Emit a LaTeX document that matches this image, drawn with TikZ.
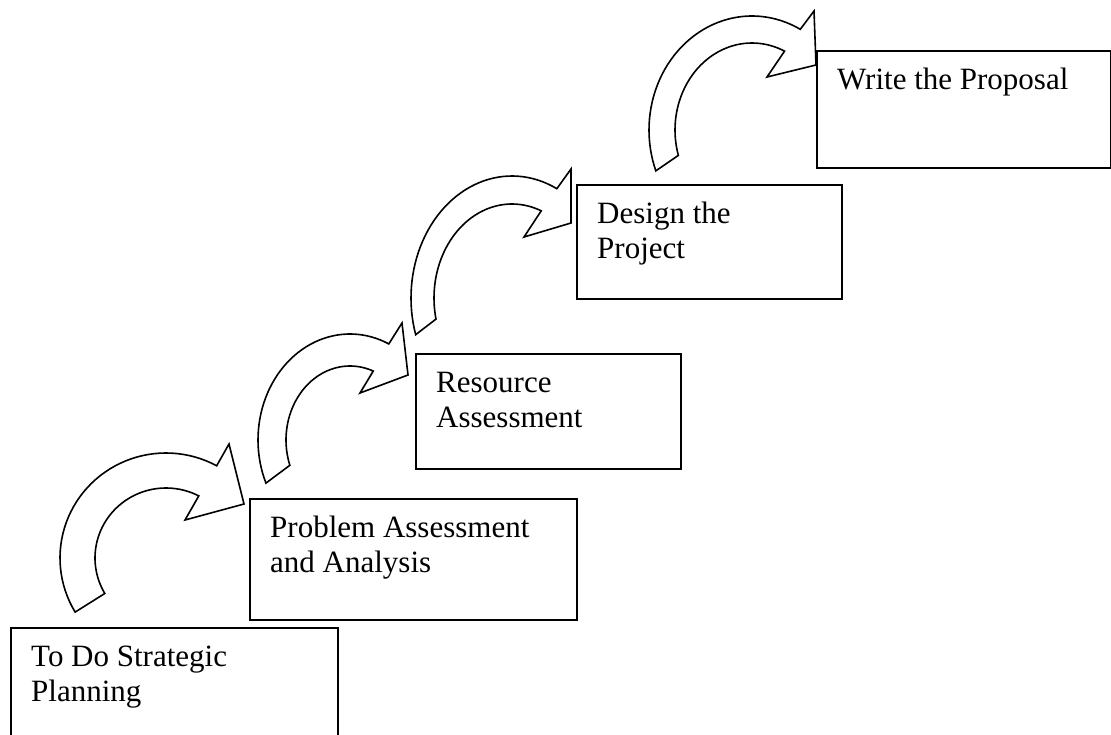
\documentclass[tikz,border=0pt]{standalone}
\usepackage{fontspec}
\setmainfont{Liberation Serif}
\usetikzlibrary{calc}
\tikzset{
  stepbox/.style={draw, line width=2pt, rectangle, anchor=north west, inner sep=0pt},
  boxtext/.style={anchor=north west, inner sep=0pt, align=left, font=\fontsize{31}{35}\selectfont},
  blockarrow/.style={draw, fill=white, line width=1.6pt, line join=miter}
}
\newcommand{\firststrut}{\rule{0pt}{24pt}}
% #1 cx, #2 cy, #3 rx, #4 ry, #5 start angle, #6 end angle
\newcommand{\ellarc}[6]{plot[domain=0:1, samples=48, variable=\s]
  ({#1+#3*cos(#5+(#6-#5)*\s)}, {#2-#4*sin(#5+(#6-#5)*\s)})}
\newcommand{\ellarcto}[6]{-- plot[domain=0:1, samples=48, variable=\s]
  ({#1+#3*cos(#5+(#6-#5)*\s)}, {#2-#4*sin(#5+(#6-#5)*\s)})}
\begin{document}
\begin{tikzpicture}[x=1pt, y=-1pt]
\useasboundingbox (0,0) rectangle (1111,735);

% boxes
\node[stepbox, minimum width=327pt, minimum height=130pt] (b1) at (10,627) {};
\node[stepbox, minimum width=327pt, minimum height=121pt] (b2) at (249,498) {};
\node[stepbox, minimum width=265pt, minimum height=115pt] (b3) at (415,353) {};
\node[stepbox, minimum width=265pt, minimum height=114pt] (b4) at (576,184) {};
\node[stepbox, minimum width=294pt, minimum height=117pt] (b5) at (816,50) {};

% texts
\node[boxtext] (t1) at ($(b1.north west)+(21,15)$) {\firststrut To Do Strategic\\Planning};
\node[boxtext] (t2) at ($(b2.north west)+(21,15)$) {\firststrut Problem Assessment\\and Analysis};
\node[boxtext] (t3) at ($(b3.north west)+(21,15)$) {\firststrut Resource\\Assessment};
\node[boxtext] (t4) at ($(b4.north west)+(21,15)$) {\firststrut Design the\\Project};
\node[boxtext] (t5) at ($(b5.north west)+(21,15)$) {\firststrut Write the Proposal};

% curved block arrows
\coordinate (a1b) at (229,444); \coordinate (a1t) at (244,504); \coordinate (a1c) at (185,520);
\draw[blockarrow] \ellarc{166}{558}{106}{105}{211}{61.4}
  -- (a1b) -- (a1t) -- (a1c)
  \ellarcto{166}{558}{71}{70}{62.5}{210.5} -- cycle;

\coordinate (a2b) at (402,323); \coordinate (a2t) at (408,375); \coordinate (a2c) at (360,393);
\draw[blockarrow] \ellarc{350}{440}{92}{106}{204}{65}
  -- (a2b) -- (a2t) -- (a2c)
  \ellarcto{350}{440}{64}{74}{68.7}{200} -- cycle;

\coordinate (a3b) at (571,169); \coordinate (a3t) at (571,223); \coordinate (a3c) at (524,237);
\draw[blockarrow] \ellarc{512}{298}{101}{122}{197.5}{63.6}
  -- (a3b) -- (a3t) -- (a3c)
  \ellarcto{512}{298}{78}{94}{68}{193} -- cycle;

\coordinate (a4b) at (814,11); \coordinate (a4t) at (816,65); \coordinate (a4c) at (767,77);
\draw[blockarrow] \ellarc{752}{130}{103}{114}{201}{62}
  -- (a4b) -- (a4t) -- (a4c)
  \ellarcto{752}{130}{77}{87}{65}{197} -- cycle;
\end{tikzpicture}
\end{document}
